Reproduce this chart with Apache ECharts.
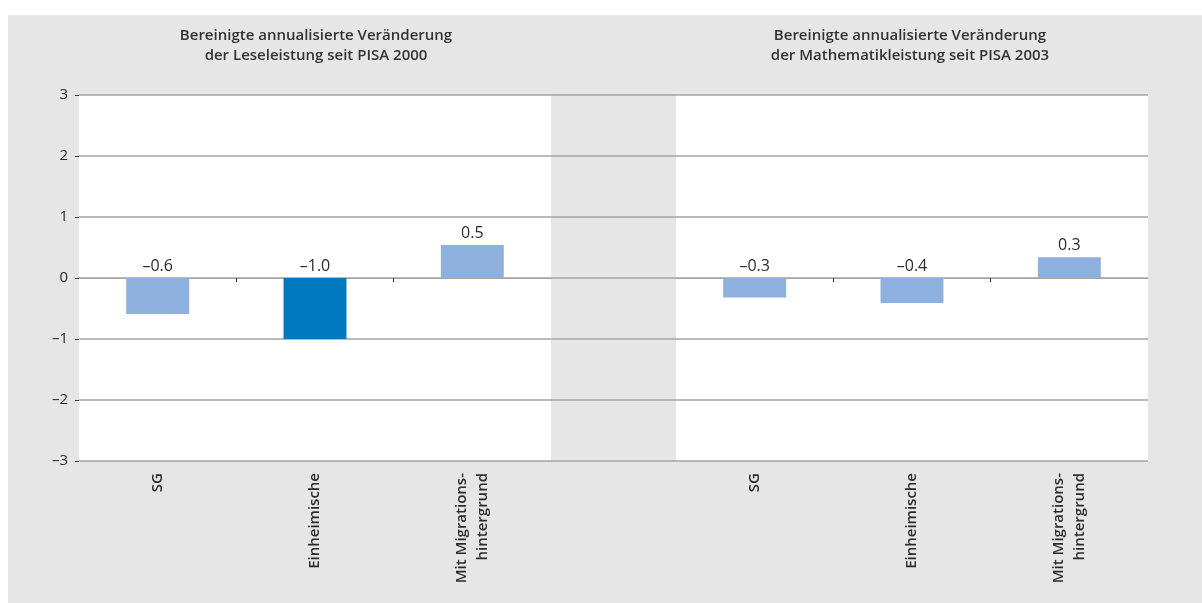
<!DOCTYPE html>
<html>
<head>
<meta charset="utf-8">
<script src="https://cdn.jsdelivr.net/npm/echarts@6/dist/echarts.min.js"></script>
<style>
html,body{margin:0;padding:0;background:#fff;}
#chart{position:absolute;left:8px;top:15px;width:1194px;height:588px;background:#e6e6e6;}
</style>
</head>
<body>
<div id="chart"></div>
<script>
// ---- data ----
const categories = ['SG', 'Einheimische', 'Mit Migrations-\nhintergrund'];
const readingValues = [-0.59, -1.0, 0.54];
const mathValues = [-0.32, -0.41, 0.34];
const readingTitle = 'Bereinigte annualisierte Veränderung\nder Leseleistung seit PISA 2000';
const mathTitle = 'Bereinigte annualisierte Veränderung\nder Mathematikleistung seit PISA 2003';
const yTicks = [-3, -2, -1, 0, 1, 2, 3];
const separatorTicks = [1, 2];

// ---- style ----
const LIGHT = '#8db0de';
const DARK = '#0079c1';
const GRIDLINE = '#a3a3a3';
const TXT = '#2b2b2b';
const FONT = '"Open Sans", "Noto Sans", sans-serif';
const highlight = { panel: 0, index: 1 };

function fmt(v) {
  const s = Math.abs(v).toFixed(1);
  return v < 0 ? '\u2013' + s : s;
}

const chart = echarts.init(document.getElementById('chart'), null, { renderer: 'canvas' });

const gridTop = 80, gridH = 366, panelW = 472;
const leftX = 71, rightX = 668;

function panelSeries(values, panel) {
  return {
    type: 'bar',
    xAxisIndex: 1 + panel,
    yAxisIndex: 1 + panel,
    barWidth: '40%',
    z: 3,
    data: values.map((v, i) => ({
      value: v,
      itemStyle: { color: (panel === highlight.panel && i === highlight.index) ? DARK : LIGHT }
    })),
    label: {
      show: true,
      position: 'top',
      distance: 4,
      formatter: p => fmt(p.value),
      fontFamily: FONT,
      fontSize: 16,
      color: TXT
    }
  };
}

function catAxis(gridIndex) {
  return {
    type: 'category', gridIndex, data: categories,
    position: 'bottom',
    axisLine: { show: false, onZero: false },
    axisTick: { show: false },
    axisLabel: {
      rotate: 90, margin: 12, interval: 0,
      fontFamily: FONT, fontSize: 15, fontWeight: 600, color: TXT, lineHeight: 21
    }
  };
}
function tickAxis(gridIndex) {
  return {
    type: 'value', gridIndex, min: 0, max: categories.length,
    position: 'bottom',
    axisLine: { show: true, onZero: true, lineStyle: { color: GRIDLINE, width: 1 } },
    axisTick: { show: true, length: 4, customValues: separatorTicks, lineStyle: { color: '#333', width: 1 } },
    axisLabel: { show: false },
    splitLine: { show: false }
  };
}
function hiddenY(gridIndex) {
  return { type: 'value', gridIndex, min: yTicks[0], max: yTicks[yTicks.length - 1], interval: 1, show: false, splitLine: { show: false } };
}

const titleStyle = { fontFamily: FONT, fontSize: 15, fontWeight: 600, color: '#333', lineHeight: 20 };

const option = {
  backgroundColor: '#e6e6e6',
  animation: false,
  title: [
    { text: readingTitle, left: 303, top: 6, textAlign: 'center', textStyle: titleStyle },
    { text: mathTitle, left: 897, top: 6, textAlign: 'center', textStyle: titleStyle }
  ],
  grid: [
    { left: leftX, top: gridTop, width: rightX + panelW - leftX, height: gridH, show: false, containLabel: false },
    { left: leftX, top: gridTop, width: panelW, height: gridH, show: true, backgroundColor: '#ffffff', borderWidth: 0 },
    { left: rightX, top: gridTop, width: panelW, height: gridH, show: true, backgroundColor: '#ffffff', borderWidth: 0 }
  ],
  xAxis: [
    { type: 'value', gridIndex: 0, show: false, min: 0, max: 1 },
    catAxis(1),
    catAxis(2),
    tickAxis(1),
    tickAxis(2)
  ],
  yAxis: [
    {
      type: 'value', gridIndex: 0, min: yTicks[0], max: yTicks[yTicks.length - 1], interval: 1,
      axisLine: { show: false },
      axisTick: { show: true, length: 4, lineStyle: { color: '#333' } },
      splitLine: { show: true, lineStyle: { color: GRIDLINE, width: 1.5 } },
      axisLabel: {
        margin: 11, fontFamily: FONT, fontSize: 15, color: TXT,
        verticalAlign: 'middle', padding: [0, 0, 11, 0],
        formatter: v => (v < 0 ? '\u2013' + (-v) : String(v))
      }
    },
    hiddenY(1),
    hiddenY(2)
  ],
  series: [
    panelSeries(readingValues, 0),
    panelSeries(mathValues, 1)
  ]
};
chart.setOption(option);
</script>
</body>
</html>
